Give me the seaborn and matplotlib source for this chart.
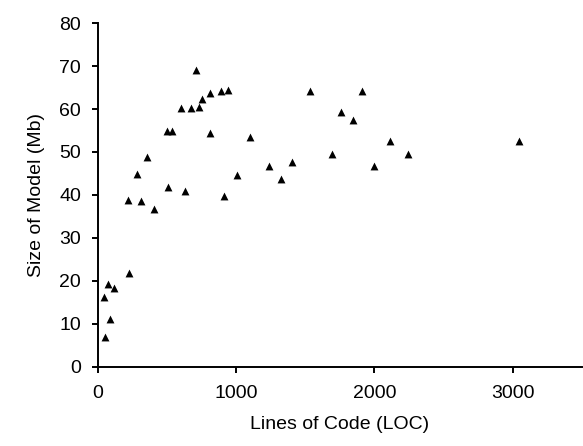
import pandas as pd
import numpy as np
import matplotlib
matplotlib.use("Agg")
import matplotlib.pyplot as plt
import seaborn as sns

# Points
loc = [48, 53, 77, 87, 120, 217, 229, 287, 311, 359, 407, 506, 629, 913, 1005,
       501, 537, 602, 672, 711, 733, 757, 812, 810, 889, 940, 1104,
       1538, 1911, 1757, 1849, 2111, 1692, 2242, 1241, 1403, 1996, 1326, 3044]
size_mb = [16.1, 6.8, 19.2, 11.0, 18.2, 38.7, 21.9, 44.8, 38.5, 48.8, 36.7, 41.8, 40.8, 39.8, 44.7,
           54.9, 54.9, 60.3, 60.3, 69.2, 60.5, 62.3, 63.8, 54.5, 64.1, 64.5, 53.5,
           64.2, 64.2, 59.3, 57.4, 52.6, 49.6, 49.6, 46.7, 47.7, 46.7, 43.8, 52.6]
x_ticks = [0, 1000, 2000, 3000]
y_ticks = [0, 10, 20, 30, 40, 50, 60, 70, 80]

df = pd.DataFrame({"loc": loc, "size": size_mb})

sns.set_theme(style="ticks")
plt.rcParams["font.family"] = ["Liberation Sans", "DejaVu Sans"]

fig = plt.figure(figsize=(5.83, 4.46), dpi=100)
ax = fig.add_axes([0.1675, 0.178, 0.8305, 0.77])

sns.scatterplot(data=df, x="loc", y="size", marker="^", color="black",
                s=32, edgecolor="black", linewidth=0, ax=ax)

ax.set_xlim(0, 3500)
ax.set_ylim(0, 80)
ax.set_xticks(x_ticks)
ax.set_yticks(y_ticks)
ax.set_xlabel("Lines of Code (LOC)", fontsize=14, color="black", labelpad=10)
ax.set_ylabel("Size of Model (Mb)", fontsize=14, color="black", labelpad=10)
ax.tick_params(axis="both", labelsize=14, colors="black", length=4, width=1.4, direction="out")
ax.tick_params(axis="x", pad=9.5)
ax.tick_params(axis="y", pad=8)

sns.despine(ax=ax)
for side in ["left", "bottom"]:
    ax.spines[side].set_linewidth(1.4)
    ax.spines[side].set_color("black")

fig.savefig("out.png", dpi=100)
